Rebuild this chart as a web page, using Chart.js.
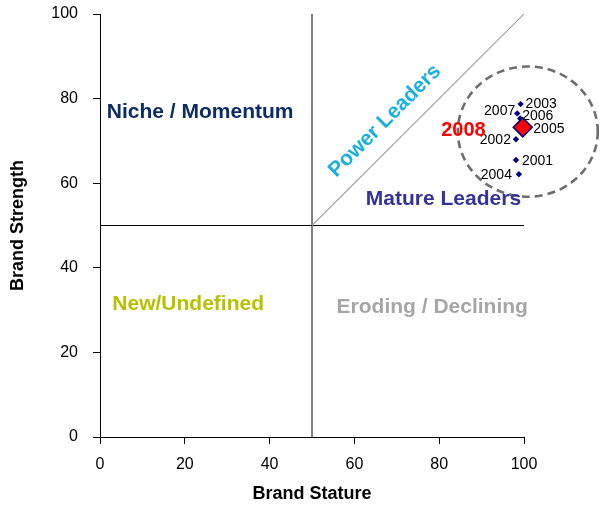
<!DOCTYPE html>
<html>
<head>
<meta charset="utf-8">
<script src="https://cdn.jsdelivr.net/npm/chart.js@4/dist/chart.umd.min.js"></script>
<style>
  html, body { margin: 0; padding: 0; background: #fff; }
  #wrap { width: 600px; height: 506px; position: relative; }
</style>
</head>
<body>
<div id="wrap"><canvas id="chart"></canvas></div>
<script>
// Brand positioning: stature vs strength by year
const years    = ['2001', '2002', '2003', '2004', '2005', '2006', '2007'];
const stature  = [98.1, 98.1, 99.2, 98.8, 99.6, 99.1, 98.4];
const strength = [65.5, 70.4, 78.7, 62.1, 73.8, 75.3, 76.5];

const latestYear     = '2008';
const latestStature  = [99.7];
const latestStrength = [73.2];

const axisTicks = [0, 20, 40, 60, 80, 100];
const midpoint = 50;
const quadrantNames = ['Niche / Momentum', 'Power Leaders', 'Mature Leaders', 'New/Undefined', 'Eroding / Declining'];

const FONT = '"Liberation Sans", Arial, Helvetica, sans-serif';

// label placement around each point (pixels)
const yearLabelPlacement = {
  '2001': { dx: 6,  dy: 1,  align: 'left'  },
  '2002': { dx: -5, dy: 1,  align: 'right' },
  '2003': { dx: 5,  dy: 0,  align: 'left'  },
  '2004': { dx: -7, dy: 1,  align: 'right' },
  '2005': { dx: 11, dy: 4,  align: 'left'  },
  '2006': { dx: 2,  dy: -2, align: 'left'  },
  '2007': { dx: -2, dy: -2, align: 'right' },
  '2008': { dx: -37, dy: 3, align: 'right' }
};

// quadrant captions: anchor in data units
const quadrantStyle = [
  { x: 1.6,  y: 76.8, color: '#0C2B69', align: 'left',   rot: 0 },
  { x: 67.2, y: 74.7, color: '#1AB0DE', align: 'center', rot: -Math.PI / 4 },
  { x: 62.7, y: 56.3, color: '#333399', align: 'left',   rot: 0 },
  { x: 2.9,  y: 31.4, color: '#B8C000', align: 'left',   rot: 0 },
  { x: 55.8, y: 30.6, color: '#A6A6A6', align: 'left',   rot: 0 }
];

const points = years.map((y, i) => ({ x: stature[i], y: strength[i] }));
const latest = latestStature.map((v, i) => ({ x: v, y: latestStrength[i] }));

const overlayPlugin = {
  id: 'overlay',
  afterDatasetsDraw(chart) {
    const { ctx, scales: { x, y } } = chart;
    ctx.save();

    // dashed ring around the recent cluster
    const cx = x.getPixelForValue(100.9), cy = y.getPixelForValue(72.2);
    const rx = x.getPixelForValue(100.9 + 16.5) - cx;
    const ry = cy - y.getPixelForValue(72.2 + 15.4);
    ctx.beginPath();
    ctx.setLineDash([8, 5]);
    ctx.lineWidth = 2.6;
    ctx.strokeStyle = '#6E6E6E';
    ctx.ellipse(cx, cy, rx, ry, 0, 0, Math.PI * 2);
    ctx.stroke();
    ctx.setLineDash([]);

    // quadrant captions
    ctx.font = 'bold 21px ' + FONT;
    ctx.textBaseline = 'middle';
    quadrantNames.forEach((name, i) => {
      const s = quadrantStyle[i];
      ctx.save();
      ctx.translate(x.getPixelForValue(s.x), y.getPixelForValue(s.y));
      ctx.rotate(s.rot);
      ctx.fillStyle = s.color;
      ctx.textAlign = s.align;
      ctx.fillText(name, 0, 0);
      ctx.restore();
    });

    // year labels
    ctx.font = '14px ' + FONT;
    ctx.fillStyle = '#000';
    years.forEach((yr, i) => {
      const p = yearLabelPlacement[yr];
      ctx.textAlign = p.align;
      ctx.fillText(yr, x.getPixelForValue(stature[i]) + p.dx, y.getPixelForValue(strength[i]) + p.dy);
    });
    const lp = yearLabelPlacement[latestYear];
    ctx.font = 'bold 20px ' + FONT;
    ctx.fillStyle = '#FF0000';
    ctx.textAlign = lp.align;
    ctx.fillText(latestYear, x.getPixelForValue(latestStature[0]) + lp.dx, y.getPixelForValue(latestStrength[0]) + lp.dy);

    ctx.restore();
  }
};

const axisCommon = {
  type: 'linear',
  min: 0,
  max: 100,
  afterBuildTicks: (scale) => { scale.ticks = axisTicks.map(v => ({ value: v })); },
  grid: { drawOnChartArea: false, drawTicks: true, tickLength: 7, color: '#000', lineWidth: 1 },
  border: { display: true, color: '#000', width: 1 },
  ticks: { color: '#000', font: { family: FONT, size: 16 } }
};

new Chart(document.getElementById('chart'), {
  type: 'scatter',
  data: {
    datasets: [
      {
        label: latestYear,
        data: latest,
        pointStyle: 'rectRot',
        pointRadius: 9.5,
        pointHoverRadius: 9.5,
        backgroundColor: '#FF0000',
        borderColor: '#000080',
        borderWidth: 1.5,
        clip: false
      },
      {
        label: 'History',
        data: points,
        pointStyle: 'rectRot',
        pointRadius: 3.2,
        pointHoverRadius: 3.2,
        backgroundColor: '#000080',
        borderColor: '#000080',
        borderWidth: 0,
        clip: false
      },
      {
        label: 'Diagonal',
        data: [{ x: midpoint, y: midpoint }, { x: 100, y: 100 }],
        showLine: true,
        pointRadius: 0,
        borderColor: '#A6A6A6',
        borderWidth: 1.2
      },
      {
        label: 'Strength divider',
        data: [{ x: 0, y: midpoint }, { x: 100, y: midpoint }],
        showLine: true,
        pointRadius: 0,
        borderColor: '#000',
        borderWidth: 1
      },
      {
        label: 'Stature divider',
        data: [{ x: midpoint, y: 0 }, { x: midpoint, y: 100 }],
        showLine: true,
        pointRadius: 0,
        borderColor: '#000',
        borderWidth: 1
      }
    ]
  },
  options: {
    responsive: true,
    maintainAspectRatio: false,
    animation: false,
    events: [],
    layout: { padding: { left: 0, top: 14, right: 76, bottom: 0 } },
    plugins: { legend: { display: false }, tooltip: { enabled: false } },
    scales: {
      x: {
        ...axisCommon,
        position: 'bottom',
        afterFit: (s) => { s.height = 69; s.paddingLeft = 0; s.paddingRight = 0; },
        ticks: { ...axisCommon.ticks, padding: 11, maxRotation: 0 },
        title: { display: true, text: 'Brand Stature', color: '#000', font: { family: FONT, size: 18, weight: 'bold' }, padding: { top: 0, bottom: 1 } }
      },
      y: {
        ...axisCommon,
        position: 'left',
        afterFit: (s) => { s.width = 100; s.paddingTop = 0; s.paddingBottom = 0; },
        ticks: { ...axisCommon.ticks, padding: 15 },
        title: { display: true, text: 'Brand Strength', color: '#000', font: { family: FONT, size: 18, weight: 'bold' }, padding: { top: 7, bottom: 0 } }
      }
    }
  },
  plugins: [overlayPlugin]
});
</script>
</body>
</html>
